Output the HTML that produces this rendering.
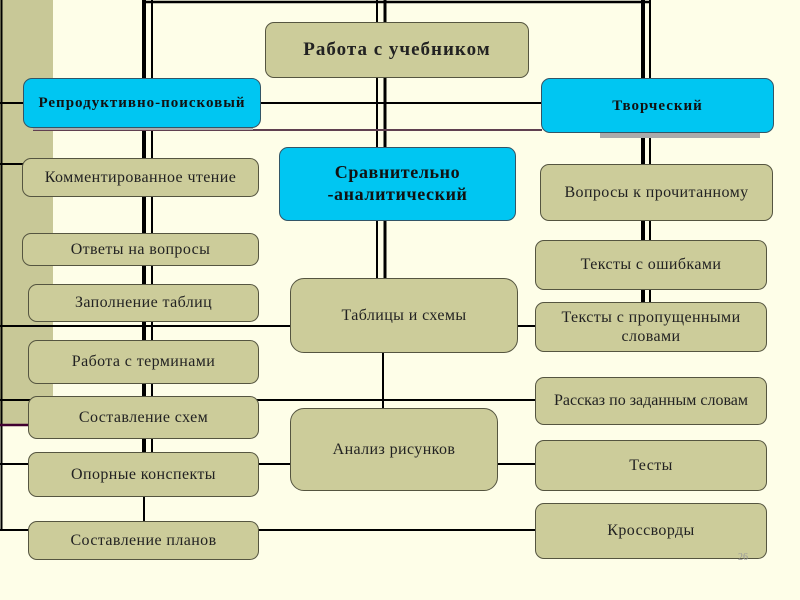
<!DOCTYPE html>
<html><head><meta charset="utf-8"><style>
html,body{margin:0;padding:0}
body{width:800px;height:600px;background:#fefee8;position:relative;overflow:hidden;font-family:"Liberation Serif","DejaVu Serif",serif}
.b{position:absolute;box-sizing:border-box;border:1.5px solid #555540;border-radius:9px;background:#cccc9a;display:flex;align-items:center;justify-content:center;text-align:center;font-size:16px;letter-spacing:0.4px;color:#222;line-height:1.2;white-space:nowrap}
.c{background:#00c6f2;border-color:#335566;font-weight:bold;color:#111;}
svg{position:absolute;left:0;top:0}
</style></head><body>
<div style="position:absolute;left:0;top:0;width:53px;height:425px;background:#c8c897"></div>
<svg width="800" height="600">
<g stroke="#000" fill="none">
<line x1="1.5" y1="0" x2="1.5" y2="531" stroke-width="2"/>
<line x1="143" y1="2" x2="650" y2="2" stroke-width="2.5"/>
<line x1="144" y1="0" x2="144" y2="453" stroke-width="4"/>
<line x1="152" y1="0" x2="152" y2="453" stroke-width="2"/>
<line x1="144" y1="496" x2="144" y2="522" stroke-width="2"/>
<line x1="377" y1="0" x2="377" y2="278" stroke-width="2"/>
<line x1="385" y1="0" x2="385" y2="278" stroke-width="3"/>
<line x1="383" y1="352" x2="383" y2="409" stroke-width="2"/>
<line x1="643" y1="0" x2="643" y2="303" stroke-width="4"/>
<line x1="650" y1="0" x2="650" y2="303" stroke-width="2"/>
<line x1="0" y1="103" x2="542" y2="103" stroke-width="2"/>
<line x1="33" y1="130" x2="542" y2="130" stroke="#604050" stroke-width="2"/>
<line x1="0" y1="164" x2="24" y2="164" stroke-width="2"/>
<line x1="0" y1="326" x2="291" y2="326" stroke-width="2"/>
<line x1="516" y1="326" x2="536" y2="326" stroke-width="2"/>
<line x1="0" y1="400" x2="536" y2="400" stroke-width="2"/>
<line x1="0" y1="425" x2="29" y2="425" stroke="#400030" stroke-width="2.5"/>
<line x1="0" y1="464" x2="29" y2="464" stroke-width="2"/>
<line x1="257" y1="464" x2="291" y2="464" stroke-width="2"/>
<line x1="496" y1="464" x2="536" y2="464" stroke-width="2"/>
<line x1="0" y1="530" x2="536" y2="530" stroke-width="2"/>
</g>
<rect x="600" y="132" width="160" height="6" fill="#aaaaaa"/>
<rect x="33" y="127" width="220" height="3" fill="#aaaaaa"/>
</svg>
<div class="b" style="left:265px;top:22px;width:264px;height:56px;font-weight:bold;font-size:19px;letter-spacing:1px">Работа с учебником</div>
<div class="b c" style="left:23px;top:78px;width:238px;height:50px;font-size:15px;letter-spacing:1px">Репродуктивно-поисковый</div>
<div class="b c" style="left:541px;top:78px;width:233px;height:55px;font-size:15px;letter-spacing:1px">Творческий</div>
<div class="b c" style="left:279px;top:147px;width:237px;height:74px;font-size:18px;letter-spacing:0.6px">Сравнительно<br>-аналитический</div>
<div class="b" style="left:22px;top:158px;width:237px;height:39px">Комментированное чтение</div>
<div class="b" style="left:22px;top:233px;width:237px;height:33px">Ответы на вопросы</div>
<div class="b" style="left:28px;top:284px;width:231px;height:38px">Заполнение таблиц</div>
<div class="b" style="left:28px;top:340px;width:231px;height:44px">Работа с терминами</div>
<div class="b" style="left:28px;top:396px;width:231px;height:43px">Составление схем</div>
<div class="b" style="left:28px;top:452px;width:231px;height:45px">Опорные конспекты</div>
<div class="b" style="left:28px;top:521px;width:231px;height:39px">Составление планов</div>
<div class="b" style="left:290px;top:278px;width:228px;height:75px;border-radius:14px">Таблицы и схемы</div>
<div class="b" style="left:290px;top:408px;width:208px;height:83px;border-radius:14px">Анализ рисунков</div>
<div class="b" style="left:540px;top:164px;width:233px;height:57px">Вопросы к прочитанному</div>
<div class="b" style="left:535px;top:240px;width:232px;height:50px">Тексты с ошибками</div>
<div class="b" style="left:535px;top:302px;width:232px;height:50px">Тексты с пропущенными<br>словами</div>
<div class="b" style="left:535px;top:377px;width:232px;height:48px;letter-spacing:0">Рассказ по заданным словам</div>
<div class="b" style="left:535px;top:440px;width:232px;height:51px">Тесты</div>
<div class="b" style="left:535px;top:503px;width:232px;height:56px">Кроссворды</div>
<div style="position:absolute;left:738px;top:552px;font-size:10px;color:#999">26</div>
</body></html>
